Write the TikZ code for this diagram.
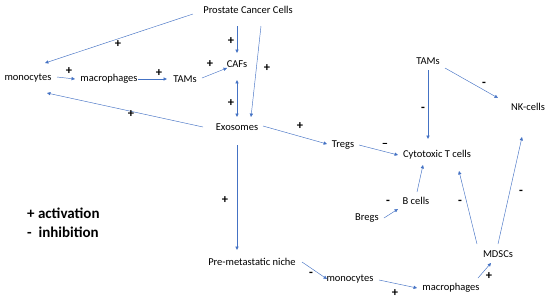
\documentclass[tikz,border=0pt]{standalone}
\usepackage{fontspec}
\setmainfont{Carlito}
\usepackage{tikz}
\usetikzlibrary{arrows.meta,calc,positioning}
\definecolor{arrblue}{RGB}{68,114,196}
\tikzset{arr/.style={-{Triangle[length=3.4pt,width=3.2pt]},arrblue,line width=0.45pt},
         dblarr/.style={{Triangle[length=3.4pt,width=3.2pt]}-{Triangle[length=3.4pt,width=3.2pt]},arrblue,line width=0.45pt},
         cell/.style={inner sep=1pt,font=\fontsize{10.5}{12}\selectfont},
         sgn/.style={inner sep=0pt,font=\fontsize{12.5}{14}\selectfont\bfseries},
         legtxt/.style={inner sep=0pt,anchor=west,font=\fontsize{15}{17}\selectfont\bfseries}}

\begin{document}
\begin{tikzpicture}[x=1pt,y=-1pt]
\useasboundingbox (0,0) rectangle (550,301);
% cells
\node[cell] (pcc)    at (248,10)  {Prostate Cancer Cells};
\node[cell] (mono)   at (28,78)   {monocytes};
\node[cell] (macro)  at (109,79)  {macrophages};
\node[cell] (tamsL)  at (185,79)  {TAMs};
\node[cell] (cafs)   at (237,64)  {CAFs};
\node[cell] (exo)    at (237,127) {Exosomes};
\node[cell] (tregs)  at (343,145) {Tregs};
\node[cell] (cyto)   at (437,155) {Cytotoxic T cells};
\node[cell] (tamsR)  at (428,61)  {TAMs};
\node[cell] (nk)     at (528,107) {NK-cells};
\node[cell] (bcells) at (416,201) {B cells};
\node[cell] (bregs)  at (367,218) {Bregs};
\node[cell] (mdscs)  at (498,254) {MDSCs};
\node[cell] (pmn)    at (252,262) {Pre-metastatic niche};
\node[cell] (monoB)  at (350,279) {monocytes};
\node[cell] (macroB) at (451,288) {macrophages};
% connections
\draw[arr] ([shift={(-55,4)}]pcc.center) -- ([shift={(17,-15)}]mono.center);
\draw[arr] ([shift={(-11,16)}]pcc.center) -- ([shift={(0,-11)}]cafs.center);
\draw[arr] ([shift={(13,16)}]pcc.center) -- ([shift={(14,-10)}]exo.center);
\draw[arr] ([shift={(29,-1)}]mono.center) -- ([shift={(-34,0)}]macro.center);
\draw[arr] ([shift={(29,0)}]macro.center) -- ([shift={(-18,0)}]tamsL.center);
\draw[arr] ([shift={(17,-1)}]tamsL.center) -- ([shift={(-10,4)}]cafs.center);
\draw[dblarr] ([shift={(0,16)}]cafs.center) -- ([shift={(0,-10)}]exo.center);
\draw[arr] ([shift={(-34,0)}]exo.center) -- ([shift={(19,15)}]mono.center);
\draw[arr] ([shift={(26,-1)}]exo.center) -- ([shift={(-16,-1)}]tregs.center);
\draw[arr] ([shift={(16,0)}]tregs.center) -- ([shift={(-39,0)}]cyto.center);
\draw[arr] ([shift={(0,18)}]exo.center) -- ([shift={(-15,-12)}]pmn.center);
\draw[arr] ([shift={(0,9)}]tamsR.center) -- ([shift={(-9,-16)}]cyto.center);
\draw[arr] ([shift={(17,7)}]tamsR.center) -- ([shift={(-30,-9)}]nk.center);
\draw[arr] ([shift={(-21,-10)}]mdscs.center) -- ([shift={(22,16)}]cyto.center);
\draw[arr] ([shift={(0,-10)}]mdscs.center) -- ([shift={(-6,30)}]nk.center);
\draw[arr] ([shift={(1,-9)}]bcells.center) -- ([shift={(-14,10)}]cyto.center);
\draw[arr] ([shift={(17,0)}]bregs.center) -- ([shift={(-18,8)}]bcells.center);
\draw[arr] ([shift={(50,0)}]pmn.center) -- ([shift={(-23,0)}]monoB.center);
\draw[arr] ([shift={(29,1)}]monoB.center) -- ([shift={(-34,0)}]macroB.center);
\draw[arr] ([shift={(27,-10)}]macroB.center) -- ([shift={(-7,9)}]mdscs.center);
% signs
\node[sgn] (s1)  at (118,44)  {+};
\node[sgn] (s2)  at (231,41)  {+};
\node[sgn] (s3)  at (267,68)  {+};
\node[sgn] (s4)  at (69,71)   {+};
\node[sgn] (s5)  at (159,73)  {+};
\node[sgn] (s6)  at (210,64)  {+};
\node[sgn] (s7)  at (231,103) {+};
\node[sgn] (s8)  at (131,114) {+};
\node[sgn] (s9)  at (300,126) {+};
\node[sgn] (s10) at (385,145) {--};
\node[sgn] (s11) at (225,200) {+};
\node[sgn] (s12) at (423,109) {-};
\node[sgn] (s13) at (484,84)  {-};
\node[sgn] (s14) at (460,202) {-};
\node[sgn] (s15) at (521,192) {-};
\node[sgn] (s16) at (388,202) {-};
\node[sgn] (s17) at (311,274) {-};
\node[sgn] (s18) at (395,293) {+};
\node[sgn] (s19) at (489,276) {+};
% legend
\node[legtxt] (act) at (27,213) {+ activation};
\node[legtxt] (inh) at (27,232) {-\ \ inhibition};
\end{tikzpicture}
\end{document}
